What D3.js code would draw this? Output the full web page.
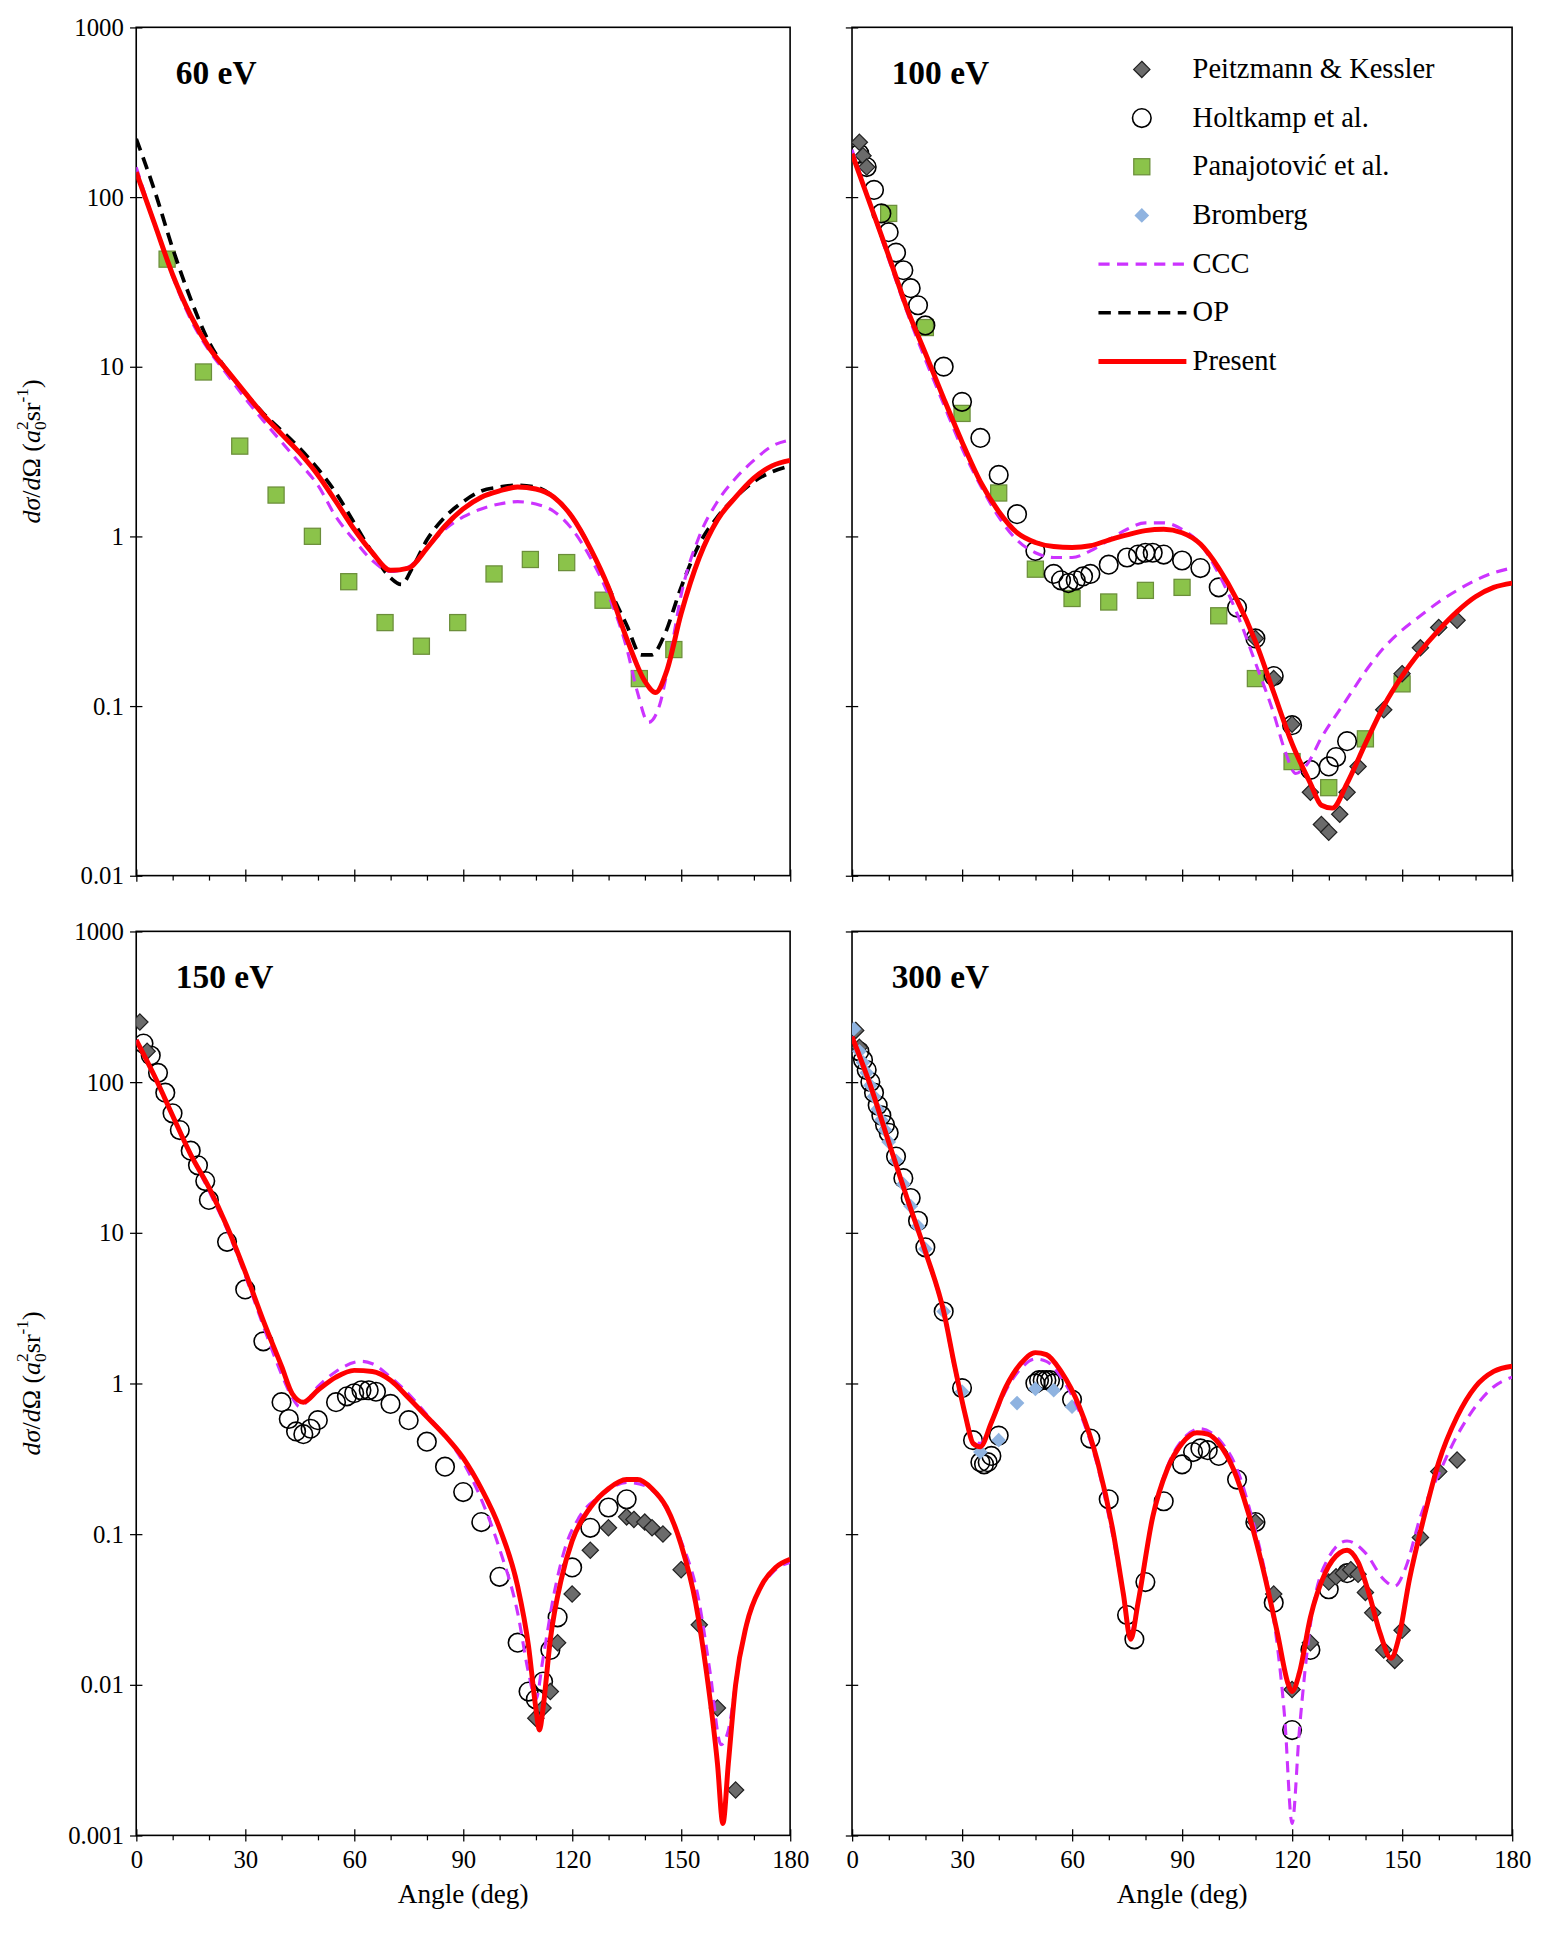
<!DOCTYPE html>
<html><head><meta charset="utf-8">
<script src="https://cdn.jsdelivr.net/npm/d3@7"></script>
<style>body{margin:0;background:#fff}text{font-family:"Liberation Serif",serif}</style>
</head><body>
<svg id="chart" width="1548" height="1937" viewBox="0 0 1250 1564"></svg>
<script>
var panels = [
  {title: '60 eV', x0: 110, x1: 638, y0: 22, y1: 707, ymin: 0.01, ylab: true, xlab: false,
   present: [[0,140],[5,70],[10,35],[15,20],[20,13],[25,9.5],[30,7],[35,5.2],[40,4],[45,3.1],[50,2.3],[55,1.6],[60,1.1],[65,0.8],[70,0.63],[75,0.65],[80,0.85],[85,1.15],[90,1.45],[95,1.7],[100,1.85],[105,1.95],[110,1.9],[115,1.7],[120,1.3],[125,0.85],[130,0.5],[135,0.25],[140,0.14],[143,0.12],[146,0.16],[150,0.35],[155,0.75],[160,1.25],[165,1.7],[170,2.2],[175,2.6],[180,2.8]],
   ccc: [[0,150],[5,70],[10,34],[15,19],[20,12.5],[25,9],[30,6.5],[35,4.8],[40,3.6],[45,2.7],[50,2.0],[55,1.3],[60,0.95],[65,0.72],[70,0.62],[75,0.66],[80,0.85],[85,1.1],[90,1.3],[95,1.45],[100,1.55],[105,1.6],[110,1.55],[115,1.4],[120,1.1],[125,0.75],[130,0.45],[135,0.22],[138,0.12],[141,0.08],[144,0.1],[147,0.2],[150,0.45],[155,1.0],[160,1.6],[165,2.2],[170,2.8],[175,3.4],[180,3.7]],
   op: [[0,220],[5,110],[10,50],[15,25],[20,14],[25,9.5],[30,7],[35,5.3],[40,4.2],[45,3.3],[50,2.5],[55,1.8],[60,1.2],[65,0.8],[70,0.57],[73,0.52],[76,0.65],[80,0.95],[85,1.3],[90,1.6],[95,1.85],[100,1.95],[105,2.0],[110,1.95],[115,1.7],[120,1.3],[125,0.85],[130,0.5],[135,0.3],[139,0.2],[142,0.2],[145,0.25],[150,0.5],[155,0.9],[160,1.3],[165,1.7],[170,2.1],[175,2.4],[180,2.6]],
   pk: [], hk: [], br: [],
   pj: [[8.5,43],[18.5,9.3],[28.5,3.4],[38.5,1.75],[48.5,1.0],[58.5,0.54],[68.5,0.31],[78.5,0.225],[88.5,0.31],[98.5,0.6],[108.5,0.73],[118.5,0.7],[128.5,0.42],[138.5,0.145],[148,0.215]]},
  {title: '100 eV', x0: 688, x1: 1221, y0: 22, y1: 707, ymin: 0.01, ylab: false, xlab: false, legend: true,
   present: [[0,180],[5,90],[10,45],[15,22],[20,12],[25,6.5],[30,3.6],[35,2.1],[40,1.4],[45,1.05],[50,0.92],[55,0.87],[60,0.86],[65,0.88],[70,0.95],[75,1.02],[80,1.08],[85,1.1],[90,1.05],[95,0.9],[100,0.65],[105,0.42],[110,0.24],[115,0.12],[120,0.06],[125,0.035],[128,0.026],[131,0.025],[135,0.035],[140,0.06],[145,0.1],[150,0.15],[155,0.21],[160,0.28],[165,0.36],[170,0.44],[175,0.5],[180,0.53]],
   ccc: [[0,190],[5,90],[10,43],[15,21],[20,11],[25,6],[30,3.3],[35,2.0],[40,1.3],[45,0.95],[50,0.8],[55,0.75],[60,0.75],[65,0.82],[70,0.95],[75,1.1],[80,1.2],[85,1.2],[90,1.1],[95,0.9],[100,0.6],[105,0.35],[110,0.18],[115,0.09],[118,0.055],[121,0.04],[124,0.045],[128,0.065],[135,0.11],[140,0.16],[145,0.22],[150,0.28],[155,0.34],[160,0.41],[165,0.48],[170,0.55],[175,0.61],[180,0.65]],
   op: [],
   pk: [[2,210],[3,175],[4,150],[110,0.25],[115,0.145],[120,0.078],[125,0.031],[128,0.02],[130,0.018],[133,0.023],[135,0.031],[138,0.044],[145,0.095],[150,0.155],[155,0.22],[160,0.29],[165,0.32]],
   hk: [[2,180],[4,150],[6,110],[8,80],[10,62],[12,47],[14,37],[16,29],[18,23],[20,17.5],[25,10],[30,6.2],[35,3.8],[40,2.3],[45,1.35],[50,0.82],[55,0.6],[57,0.55],[59,0.53],[61,0.55],[63,0.58],[65,0.6],[70,0.68],[75,0.75],[78,0.78],[80,0.8],[82,0.8],[85,0.78],[90,0.72],[95,0.65],[100,0.5],[105,0.38],[110,0.25],[115,0.15],[120,0.077],[125,0.042],[130,0.044],[132,0.05],[135,0.062]],
   br: [],
   pj: [[10,80],[20,17],[30,5.3],[40,1.8],[50,0.64],[60,0.43],[70,0.41],[80,0.48],[90,0.5],[100,0.34],[110,0.145],[120,0.047],[130,0.033],[140,0.064],[150,0.135]]},
  {title: '150 eV', x0: 110, x1: 638, y0: 752, y1: 1482, ymin: 0.001, ylab: true, xlab: true,
   present: [[0,190],[5,110],[10,60],[15,33],[20,20],[25,11],[30,5.5],[35,2.6],[40,1.3],[43,0.85],[46,0.75],[50,0.9],[55,1.1],[60,1.22],[65,1.2],[70,1.05],[75,0.8],[80,0.6],[85,0.45],[90,0.32],[95,0.2],[100,0.11],[105,0.045],[108,0.018],[110,0.007],[111,0.005],[112,0.007],[114,0.02],[117,0.05],[120,0.09],[125,0.15],[130,0.2],[135,0.23],[138,0.23],[142,0.2],[146,0.15],[150,0.085],[154,0.035],[157,0.012],[160,0.003],[161.5,0.0012],[163,0.003],[165,0.01],[168,0.025],[172,0.045],[176,0.06],[180,0.068]],
   ccc: [[0,190],[5,110],[10,60],[15,33],[20,19],[25,10.5],[30,5.2],[35,2.4],[40,1.15],[43,0.8],[45,0.7],[50,0.95],[55,1.2],[62,1.4],[65,1.35],[70,1.1],[75,0.85],[80,0.62],[85,0.45],[90,0.3],[95,0.17],[100,0.08],[105,0.03],[108,0.012],[110,0.008],[112,0.015],[115,0.04],[118,0.08],[122,0.13],[128,0.18],[135,0.22],[140,0.21],[145,0.16],[150,0.09],[155,0.035],[158,0.012],[161,0.004],[163,0.005],[166,0.015],[170,0.035],[175,0.055],[180,0.065]],
   op: [],
   pk: [[1,250],[3,160],[110,0.006],[112,0.007],[114,0.009],[116,0.019],[120,0.04],[125,0.078],[130,0.11],[135,0.13],[137,0.125],[140,0.12],[142,0.11],[145,0.1],[150,0.058],[155,0.025],[160,0.007],[165,0.002]],
   hk: [[2,180],[4,150],[6,115],[8,85],[10,62],[12,48],[15,35],[17,28],[19,22],[20,16.5],[25,8.7],[30,4.2],[35,1.9],[40,0.75],[42,0.58],[44,0.48],[46,0.46],[48,0.5],[50,0.57],[55,0.75],[58,0.82],[60,0.86],[62,0.9],[64,0.9],[66,0.88],[70,0.73],[75,0.57],[80,0.41],[85,0.28],[90,0.19],[95,0.12],[100,0.052],[105,0.019],[108,0.009],[110,0.008],[112,0.0105],[114,0.017],[116,0.028],[120,0.06],[125,0.11],[130,0.15],[135,0.17]],
   br: [], pj: []},
  {title: '300 eV', x0: 688, x1: 1221, y0: 752, y1: 1482, ymin: 0.001, ylab: false, xlab: true,
   present: [[0,200],[5,95],[10,40],[15,17],[20,7.5],[25,3],[28,1.3],[31,0.6],[33,0.4],[35,0.38],[38,0.55],[42,0.95],[46,1.35],[50,1.6],[53,1.55],[57,1.2],[62,0.7],[67,0.3],[71,0.11],[74,0.04],[76,0.02],[78,0.035],[82,0.13],[86,0.27],[90,0.4],[94,0.47],[97,0.46],[100,0.4],[104,0.27],[108,0.14],[112,0.06],[116,0.022],[119,0.01],[120,0.009],[122,0.012],[125,0.028],[129,0.055],[133,0.075],[135,0.078],[138,0.065],[141,0.04],[144,0.022],[147,0.015],[149,0.02],[152,0.05],[156,0.13],[160,0.3],[165,0.6],[170,0.95],[175,1.2],[180,1.3]],
   ccc: [[0,200],[5,95],[10,40],[15,17],[20,7.3],[25,2.9],[28,1.25],[31,0.6],[33,0.42],[35,0.4],[38,0.55],[42,0.9],[46,1.25],[50,1.45],[53,1.4],[57,1.1],[62,0.65],[67,0.28],[71,0.1],[74,0.04],[76,0.022],[78,0.035],[82,0.13],[86,0.28],[90,0.42],[95,0.5],[98,0.47],[101,0.4],[105,0.27],[109,0.13],[113,0.05],[116,0.018],[118,0.006],[120,0.0012],[122,0.005],[125,0.025],[130,0.07],[135,0.09],[140,0.075],[145,0.05],[148,0.045],[151,0.06],[155,0.13],[160,0.25],[165,0.45],[170,0.7],[175,0.95],[180,1.1]],
   op: [],
   pk: [[1,220],[2,170],[110,0.12],[115,0.04],[120,0.0093],[125,0.019],[130,0.048],[132,0.052],[134,0.055],[136,0.058],[138,0.054],[140,0.041],[142,0.03],[145,0.017],[148,0.0145],[150,0.023],[155,0.095],[160,0.26],[165,0.31]],
   hk: [[2,160],[3,140],[4,120],[5,100],[6,85],[7,70],[8,60],[9,52],[10,46],[12,32],[14,23],[16,17],[18,12],[20,8],[25,3],[30,0.93],[33,0.42],[35,0.3],[36,0.29],[37,0.3],[38,0.33],[40,0.45],[50,1.0],[51,1.05],[52,1.05],[53,1.05],[54,1.05],[55,1.0],[60,0.78],[65,0.43],[70,0.17],[75,0.029],[77,0.02],[80,0.048],[85,0.165],[90,0.29],[93,0.35],[95,0.37],[97,0.36],[100,0.33],[105,0.23],[110,0.12],[115,0.035],[120,0.005],[125,0.017],[130,0.043],[135,0.055]],
   br: [[0.5,225],[2,160],[3,135],[4,115],[5,95],[6,80],[7,66],[8,56],[9,48],[10,40],[12,30],[14,21],[16,15],[18,11],[20,7.8],[25,3],[30,0.88],[35,0.35],[40,0.42],[45,0.74],[50,0.92],[55,0.9],[60,0.7]],
   pj: []}
];

var svg = d3.select('#chart');
var diamond = d3.symbol().type(d3.symbolDiamond2).size(110);
var diamondB = d3.symbol().type(d3.symbolDiamond2).size(90);

panels.forEach(function(p) {
  var x = d3.scaleLinear().domain([0, 180]).range([p.x0, p.x1]);
  var y = d3.scaleLog().domain([p.ymin, 1000]).range([p.y1, p.y0]);
  var g = svg.append('g');

  // frame
  g.append('rect').attr('x', p.x0).attr('y', p.y0).attr('width', p.x1 - p.x0).attr('height', p.y1 - p.y0)
    .attr('fill', 'none').attr('stroke', '#000').attr('stroke-width', 1.3);

  var decades = d3.range(Math.log10(p.ymin), 4).map(function(e) { return Math.pow(10, e); });
  var yAxis = d3.axisLeft(y).tickValues(decades).tickSizeInner(5).tickSizeOuter(0)
    .tickFormat(function(d) { return p.ylab ? d3.format('')(+d.toPrecision(1)) : ''; });
  var ya = g.append('g').attr('transform', 'translate(' + p.x0 + ',0)').call(yAxis);
  ya.selectAll('line').attr('x2', 5).attr('x1', -5);
  ya.selectAll('text').attr('x', -10).style('font-size', '20px');
  ya.select('.domain').remove();

  var xAxis = d3.axisBottom(x).tickValues(d3.range(0, 181, 10)).tickSizeOuter(0)
    .tickFormat(function(d) { return p.xlab && d % 30 === 0 ? d : ''; });
  var xa = g.append('g').attr('transform', 'translate(0,' + p.y1 + ')').call(xAxis);
  xa.selectAll('line').attr('y1', function(d) { return d % 30 === 0 ? -5 : 0; })
    .attr('y2', function(d) { return d % 30 === 0 ? 5 : 4; });
  xa.selectAll('text').attr('y', 12).style('font-size', '20px');
  xa.select('.domain').remove();

  if (p.xlab) {
    g.append('text').attr('x', (p.x0 + p.x1) / 2).attr('y', p.y1 + 55).attr('text-anchor', 'middle')
      .style('font-size', '22px').text('Angle (deg)');
  }
  if (p.ylab) {
    var t = g.append('text').attr('transform', 'translate(32,' + (p.y0 + p.y1) / 2 + ') rotate(-90)')
      .attr('text-anchor', 'middle').style('font-size', '21px');
    t.append('tspan').style('font-style', 'italic').text('d');
    t.append('tspan').style('font-style', 'italic').text('σ');
    t.append('tspan').text('/');
    t.append('tspan').style('font-style', 'italic').text('d');
    t.append('tspan').text('Ω (');
    t.append('tspan').style('font-style', 'italic').text('a');
    t.append('tspan').attr('dy', 5).style('font-size', '14px').text('0');
    t.append('tspan').attr('dy', -14).attr('dx', -7).style('font-size', '14px').text('2');
    t.append('tspan').attr('dy', 9).text('sr');
    t.append('tspan').attr('dy', -9).style('font-size', '14px').text('-1');
    t.append('tspan').attr('dy', 9).text(')');
  }

  g.append('text').attr('x', p.x0 + 32).attr('y', p.y0 + 46).style('font-size', '27px')
    .style('font-weight', 'bold').text(p.title);

  var cp = g.append('clipPath').attr('id', 'c' + p.x0 + p.y0).append('rect')
    .attr('x', p.x0).attr('y', p.y0).attr('width', p.x1 - p.x0).attr('height', p.y1 - p.y0);
  var plot = g.append('g').attr('clip-path', 'url(#c' + p.x0 + p.y0 + ')');
  var line = d3.line().x(function(d) { return x(d[0]); }).y(function(d) { return y(d[1]); }).curve(d3.curveMonotoneX);

  plot.selectAll('.pj').data(p.pj).join('rect')
    .attr('x', function(d) { return x(d[0]) - 6.5; }).attr('y', function(d) { return y(d[1]) - 6.5; })
    .attr('width', 13).attr('height', 13).attr('fill', '#8bc34a').attr('stroke', '#6b8e3a').attr('stroke-width', 1);
  plot.selectAll('.hk').data(p.hk).join('circle')
    .attr('cx', function(d) { return x(d[0]); }).attr('cy', function(d) { return y(d[1]); })
    .attr('r', 7.5).attr('fill', 'none').attr('stroke', '#000').attr('stroke-width', 1.3);
  plot.selectAll('.pk').data(p.pk).join('path').attr('d', diamond)
    .attr('transform', function(d) { return 'translate(' + x(d[0]) + ',' + y(d[1]) + ')'; })
    .attr('fill', '#6b6b6b').attr('stroke', '#222').attr('stroke-width', 1);
  plot.selectAll('.br').data(p.br).join('path').attr('d', diamondB)
    .attr('transform', function(d) { return 'translate(' + x(d[0]) + ',' + y(d[1]) + ')'; })
    .attr('fill', '#8fb3e0');

  if (p.op.length) plot.append('path').attr('d', line(p.op)).attr('fill', 'none')
    .attr('stroke', '#000').attr('stroke-width', 3).attr('stroke-dasharray', '10,6');
  plot.append('path').attr('d', line(p.ccc)).attr('fill', 'none')
    .attr('stroke', '#cc33ff').attr('stroke-width', 2.5).attr('stroke-dasharray', '9,6');
  plot.append('path').attr('d', line(p.present)).attr('fill', 'none')
    .attr('stroke', '#ff0000').attr('stroke-width', 4);

  if (p.legend) {
    var items = [['pk', 'Peitzmann & Kessler'], ['hk', 'Holtkamp et al.'], ['pj', 'Panajotović et al.'],
      ['br', 'Bromberg'], ['ccc', 'CCC'], ['op', 'OP'], ['present', 'Present']];
    items.forEach(function(it, i) {
      var ly = 56 + i * 39.3, lx = 922;
      var lg = g.append('g');
      if (it[0] === 'pk') lg.append('path').attr('d', diamond).attr('transform', 'translate(' + lx + ',' + ly + ')').attr('fill', '#6b6b6b').attr('stroke', '#222');
      if (it[0] === 'hk') lg.append('circle').attr('cx', lx).attr('cy', ly).attr('r', 7.5).attr('fill', 'none').attr('stroke', '#000').attr('stroke-width', 1.3);
      if (it[0] === 'pj') lg.append('rect').attr('x', lx - 6.5).attr('y', ly - 6.5).attr('width', 13).attr('height', 13).attr('fill', '#8bc34a').attr('stroke', '#6b8e3a');
      if (it[0] === 'br') lg.append('path').attr('d', diamondB).attr('transform', 'translate(' + lx + ',' + ly + ')').attr('fill', '#8fb3e0');
      var st = {ccc: ['#cc33ff', 2.5, '9,6'], op: ['#000', 3, '10,6'], present: ['#ff0000', 4, null]}[it[0]];
      if (st) lg.append('line').attr('x1', 887).attr('x2', 958).attr('y1', ly).attr('y2', ly)
        .attr('stroke', st[0]).attr('stroke-width', st[1]).attr('stroke-dasharray', st[2]);
      lg.append('text').attr('x', 963).attr('y', ly + 7).style('font-size', '23px').text(it[1]);
    });
  }
});
</script>
</body></html>
